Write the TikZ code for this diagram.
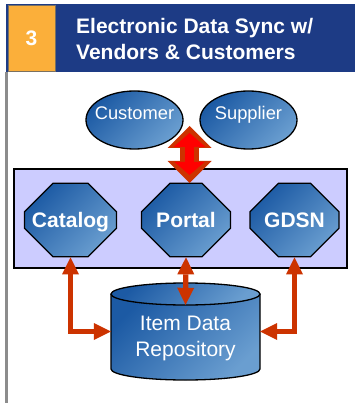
\documentclass[tikz,border=0pt]{standalone}
\usepackage{fontspec}
\setmainfont{Liberation Sans}
\usetikzlibrary{shapes.geometric,shapes.misc,arrows.meta,calc}

\definecolor{hdrblue}{HTML}{1D3B85}
\definecolor{badgeorange}{HTML}{FBAF3A}
\definecolor{badgeedge}{HTML}{7A7060}
\definecolor{hubfill}{HTML}{CCCCFF}
\definecolor{linkred}{HTML}{CC3300}
\definecolor{bluedark}{HTML}{1C5AA4}
\definecolor{bluelight}{HTML}{6A9ED0}
\definecolor{framegray}{HTML}{8C8C8C}

\tikzset{
  blueshade/.style={top color=bluedark, bottom color=bluelight, shading angle=45},
  party/.style={ellipse, draw=black, line width=1.3pt, blueshade,
    minimum width=97pt, minimum height=58pt, inner xsep=-8pt, inner ysep=0pt, text=white,
    font=\fontsize{18.3}{22}\selectfont, text height=13pt, text depth=13pt},
  octa/.style={chamfered rectangle, chamfered rectangle xsep=21pt,
    chamfered rectangle ysep=21pt, draw=black, line width=1.3pt, blueshade,
    minimum width=89pt, minimum height=73.4pt, inner sep=0pt, text=white,
    font=\bfseries\fontsize{21}{25}\selectfont, text height=15pt, text depth=0pt},
  link/.style={draw=linkred, line width=5.3pt, line join=miter,
    arrows={Triangle[width=17pt,length=17pt,line width=0pt]-Triangle[width=17pt,length=17pt,line width=0pt]}},
}

\begin{document}
\begin{tikzpicture}[x=1pt,y=-1pt]
\useasboundingbox (0,0) rectangle (355,403);
\fill[white] (0,0) rectangle (355,403);

% header bar and number badge
\fill[hdrblue] (6,4) rectangle (355,72);
\node[draw=badgeedge, line width=0.8pt, fill=badgeorange, minimum width=47pt,
  minimum height=66pt, inner sep=0pt, text=white,
  font=\bfseries\fontsize{21}{25}\selectfont] (badge) at (31.5,38) {3};
\node[anchor=base west, align=left, inner sep=0pt, text=white,
  font=\bfseries\fontsize{21}{26}\selectfont] (title) at (76,59.3)
  {Electronic Data Sync w/\\Vendors \& Customers};

% left frame rule
\draw[framegray, line width=2.5pt] (6.5,72) -- (6.5,403);

% trading partners
\node[party] (customer) at (134.5,120) {Customer};
\node[party] (supplier) at (248.5,120) {Supplier};

% integration layer
\node[draw=black, line width=1.3pt, fill=hubfill, minimum width=333pt,
  minimum height=99pt, inner sep=0pt] (hub) at (180.5,218.5) {};
\node[octa] (catalog) at (70.5,220) {Catalog};
\node[octa] (portal) at (186,220) {Portal};
\node[octa] (gdsn) at (294.5,220) {GDSN};

% item data repository (cylinder)
\node[minimum width=149pt, minimum height=97pt, inner sep=0pt] (repo) at (185.5,331.5) {};
\shade[blueshade] (111,294) -- (111,369) arc[start angle=180, end angle=0, x radius=74.5, y radius=11]
  -- (260,294) arc[start angle=0, end angle=180, x radius=74.5, y radius=11] -- cycle;
\draw[black, line width=1.3pt] (111,294) -- (111,369) arc[start angle=180, end angle=0, x radius=74.5, y radius=11]
  -- (260,294);
\shade[blueshade, draw=black, line width=1.3pt] (185.5,294) ellipse[x radius=74.5, y radius=11];
\node[align=center, text=white, inner sep=0pt, font=\fontsize{21}{25.7}\selectfont]
  (repotext) at ($(repo.center)+(0,7)$) {Item Data\\Repository};
\coordinate (repotop) at ($(repo.north)+(0,22)$);

% exchange with trading partners
\coordinate (linkA) at (189.5,126);
\coordinate (linkB) at (189.5,183);
\draw[linkred, line width=19pt,
  arrows={Triangle[width=44pt,length=22pt,line width=0pt]-Triangle[width=44pt,length=22pt,line width=0pt]}]
  (linkA) -- (linkB);
\draw[red, line width=9pt, shorten <=7pt, shorten >=8pt,
  arrows={Triangle[width=32pt,length=14pt,line width=0pt]-Triangle[width=30pt,length=13pt,line width=0pt]}]
  (linkA) -- (linkB);

% synchronisation with the repository
\draw[link] (catalog.south) |- (repo.west);
\draw[link] (portal.south) -- (repotop);
\draw[link] (gdsn.south) |- (repo.east);
\end{tikzpicture}
\end{document}
